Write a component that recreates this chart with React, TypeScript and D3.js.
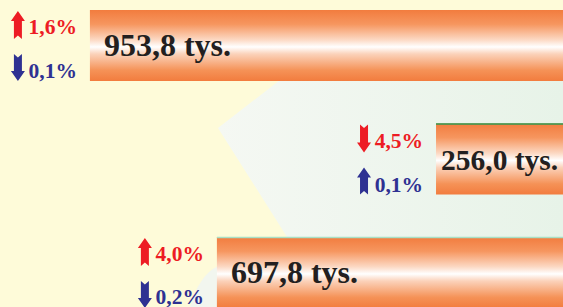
import React from "react";
import * as d3 from "d3";

const W = 563;
const H = 307;

// values in thousands, and the two changes shown beside each bar
const values = [953.8, 256.0, 697.8];
const redChanges = [1.6, -4.5, 4.0];
const blueChanges = [-0.1, 0.1, -0.2];

const RED = "#ed1c24";
const BLUE = "#2e3192";
const FONT = "'Liberation Serif', 'Times New Roman', serif";

const pl = d3.formatLocale({ decimal: ",", thousands: " ", grouping: [3], currency: ["", ""] });
const fmt = pl.format(".1f");

// arrow with a notched tail
const arrowPath = (cx: number, y0: number, y1: number, up: boolean) => {
  const hw = 7, sw = 4, head = 10, notch = 3.5;
  if (up) {
    return `M${cx},${y0} L${cx + hw},${y0 + head} L${cx + sw},${y0 + head} L${cx + sw},${y1} L${cx},${y1 - notch} L${cx - sw},${y1} L${cx - sw},${y0 + head} L${cx - hw},${y0 + head} Z`;
  }
  return `M${cx},${y1} L${cx + hw},${y1 - head} L${cx + sw},${y1 - head} L${cx + sw},${y0} L${cx},${y0 + notch} L${cx - sw},${y0} L${cx - sw},${y1 - head} L${cx - hw},${y1 - head} Z`;
};

const App = () => {
  const x = d3.scaleLinear().domain([0, 1000]).range([W, W - 496]);
  const y = d3.scalePoint<number>().domain(d3.range(values.length)).range([10, 237]);
  const barH = 71;
  const topLines = ["none", "#2f9a52", "#a9dfc4"];

  return (
    <svg width={W} height={H} style={{ position: "absolute", left: 0, top: 0 }}>
      <defs>
        <linearGradient id="barGrad" x1="0" y1="0" x2="0" y2="1">
          <stop offset="0" stopColor="#f27c3e" />
          <stop offset="0.2" stopColor="#f6965f" />
          <stop offset="0.42" stopColor="#fcd9c4" />
          <stop offset="0.52" stopColor="#ffffff" />
          <stop offset="0.62" stopColor="#fbd2ba" />
          <stop offset="0.85" stopColor="#f59257" />
          <stop offset="1" stopColor="#f27c3e" />
        </linearGradient>
        <linearGradient id="bgGrad" x1="0" y1="0" x2="1" y2="0">
          <stop offset="0" stopColor="#f5f8f3" />
          <stop offset="1" stopColor="#e7f3e8" />
        </linearGradient>
      </defs>
      <rect width={W} height={H} fill="#fefbd9" />
      <path d={`M280,80 L${W},80 L${W},${H} L300,${H} L287,237 L218,128 Z`} fill="url(#bgGrad)" />
      <path d={`M218,266 C205,272 195,288 190,${H} L218,${H} Z`} fill="#f2f6ef" />

      {values.map((v, i) => {
        const left = x(v);
        const top = y(i) as number;
        const narrow = W - left < 200;
        const arrowX = left - 72;
        const textEnd = left - 13;
        return (
          <g key={i}>
            <rect x={left} y={top} width={W - left} height={barH} fill="url(#barGrad)" />
            {topLines[i] !== "none" && (
              <line x1={left} x2={W} y1={top + 0.5} y2={top + 0.5} stroke={topLines[i]} strokeWidth={1.5} />
            )}
            <text
              x={left + (narrow ? 5 : 14)}
              y={top + 46}
              fontFamily={FONT}
              fontWeight="bold"
              fontSize={narrow ? 29.5 : 32}
              fill="#231f20"
            >
              {fmt(v) + " tys."}
            </text>
            <path d={arrowPath(arrowX, top + 1, top + 29, redChanges[i] > 0)} fill={RED} />
            <text x={textEnd} y={top + 24} textAnchor="end" fontFamily={FONT} fontWeight="bold" fontSize={21.5} fill={RED}>
              {fmt(Math.abs(redChanges[i])) + "%"}
            </text>
            <path d={arrowPath(arrowX, top + 44, top + 71, blueChanges[i] > 0)} fill={BLUE} />
            <text x={textEnd} y={Math.min(top + 68, H - 3)} textAnchor="end" fontFamily={FONT} fontWeight="bold" fontSize={21.5} fill={BLUE}>
              {fmt(Math.abs(blueChanges[i])) + "%"}
            </text>
          </g>
        );
      })}
    </svg>
  );
};

export default App;
